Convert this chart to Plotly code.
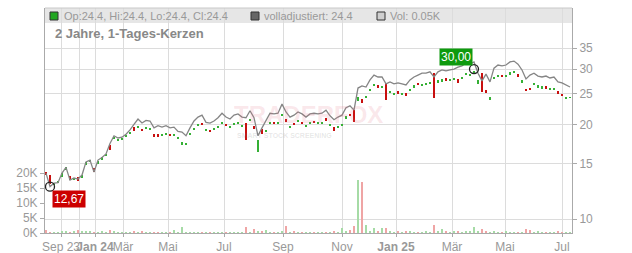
import math
import plotly.graph_objects as go

# ---------------- data (sampled sessions, oldest -> newest) ----------------
adj_close = [
    14.0, 12.67, 13.0, 13.05, 14.0, 14.6, 13.3, 13.5, 13.4, 13.8,
    15.2, 15.4, 14.1, 15.4, 15.7, 16.1, 17.4, 18.4, 18.1, 18.2,
    18.6, 19.2, 20.0, 20.8, 20.2, 20.6, 20.5, 19.5, 19.8, 19.6,
    19.8, 19.5, 19.6, 19.0, 18.9, 18.4, 19.5, 20.5, 21.1, 21.4,
    20.3, 20.2, 20.5, 21.0, 21.7, 21.1, 20.8, 21.4, 21.6, 21.1,
    21.0, 22.1, 21.0, 18.4, 19.5, 20.5, 21.7, 21.6, 21.7, 23.2,
    21.9, 21.1, 21.4, 21.9, 21.6, 21.1, 21.6, 21.7, 21.6, 21.7,
    22.2, 21.3, 20.7, 21.1, 21.4, 22.6, 22.9, 22.2, 26.1, 26.5,
    26.3, 27.7, 28.7, 28.3, 28.3, 26.9, 27.3, 26.9, 27.1, 26.9,
    26.7, 27.7, 28.3, 28.7, 29.1, 29.1, 29.4, 28.3, 29.4, 29.8,
    29.6, 29.8, 30.0, 30.4, 30.7, 31.4, 31.1, 31.6, 29.1, 27.5,
    28.9, 27.3, 30.2, 30.9, 30.7, 30.9, 31.6, 31.8, 31.1, 29.8,
    27.9, 28.7, 29.1, 28.5, 28.3, 28.5, 28.1, 28.3, 27.3, 27.1,
    26.7, 26.3,
]

candle_open = [
    14.1, 13.8, 12.9, 13.0, 13.6, 14.3, 13.7, 13.3, 13.6, 13.5,
    14.8, 15.2, 14.5, 15.0, 15.5, 15.9, 17.2, 18.0, 17.8, 17.9,
    18.3, 18.7, 19.6, 19.6, 19.4, 19.4, 19.3, 18.6, 18.7, 18.4,
    18.6, 18.7, 18.4, 18.0, 17.2, 17.3, 18.5, 19.2, 19.7, 20.2,
    19.0, 19.2, 19.2, 19.6, 20.2, 20.0, 19.5, 20.0, 20.2, 19.7,
    20.2, 20.6, 19.8, 16.3, 19.4, 18.9, 20.1, 20.4, 20.1, 21.3,
    20.8, 19.6, 20.2, 20.3, 20.4, 19.7, 20.1, 20.5, 20.1, 20.2,
    20.9, 19.8, 19.6, 19.5, 19.9, 20.8, 21.6, 22.2, 23.8, 24.1,
    24.2, 25.5, 26.5, 26.6, 26.2, 27.1, 25.2, 24.9, 25.5, 24.9,
    25.1, 25.6, 26.2, 27.0, 26.6, 26.8, 27.0, 29.1, 27.2, 27.4,
    28.0, 27.5, 27.7, 27.9, 28.0, 28.8, 28.6, 29.2, 26.9, 29.1,
    25.8, 24.0, 27.8, 28.3, 28.7, 28.4, 28.9, 29.2, 28.9, 27.2,
    26.0, 26.2, 26.6, 26.3, 26.0, 26.4, 25.8, 25.9, 25.5, 25.0,
    24.2, 24.3,
]

candle_close = [
    13.9, 12.9, 13.0, 13.2, 14.0, 14.6, 13.3, 13.5, 13.2, 13.8,
    15.2, 15.4, 14.1, 15.3, 15.7, 16.1, 16.6, 18.3, 18.0, 18.1,
    18.5, 18.9, 19.1, 19.8, 19.0, 19.6, 19.5, 18.3, 18.3, 18.6,
    18.8, 18.4, 18.6, 18.2, 17.6, 17.5, 18.8, 19.5, 20.0, 19.9,
    19.3, 18.9, 19.4, 19.8, 20.4, 19.7, 19.7, 20.2, 20.4, 19.9,
    17.8, 20.8, 19.4, 17.9, 18.6, 19.2, 20.4, 20.0, 20.3, 21.6,
    20.3, 19.8, 19.9, 20.6, 20.0, 19.9, 20.3, 20.2, 20.3, 20.4,
    20.5, 20.0, 19.0, 19.8, 20.1, 21.2, 21.2, 20.4, 24.5, 23.4,
    24.6, 25.9, 26.9, 26.1, 26.5, 23.9, 25.6, 25.2, 25.0, 25.2,
    24.7, 26.0, 26.6, 26.6, 26.9, 27.1, 27.3, 24.3, 27.6, 27.8,
    27.5, 27.9, 28.1, 27.1, 28.4, 29.2, 29.0, 29.6, 27.6, 25.4,
    25.2, 24.5, 28.3, 28.7, 28.3, 28.8, 29.3, 29.6, 28.4, 27.6,
    25.5, 25.8, 27.0, 26.6, 26.4, 25.9, 26.1, 26.2, 25.0, 24.6,
    24.5, 24.4,
]

volume_k = [
    1.0, 0.3, 0.2, 0.3, 0.4, 0.5, 0.3, 0.8, 0.9, 0.6,
    0.7, 0.4, 0.3, 0.3, 0.6, 0.3, 1.0, 0.4, 0.3, 0.2,
    0.3, 0.2, 0.5, 0.3, 0.4, 0.2, 0.3, 0.2, 0.2, 0.3,
    0.2, 0.3, 1.0, 0.2, 2.0, 0.3, 0.2, 0.3, 0.2, 0.1,
    0.2, 0.3, 0.2, 0.1, 0.2, 0.3, 0.1, 0.2, 0.2, 0.3,
    2.0, 0.3, 1.5, 0.4, 0.5, 1.0, 0.3, 0.2, 0.3, 0.5,
    2.3, 0.3, 0.4, 0.2, 0.3, 0.2, 0.1, 0.2, 0.3, 0.2,
    0.3, 0.2, 0.4, 0.3, 1.7, 0.5, 1.0, 2.3, 17.7, 17.0,
    2.7, 0.6, 1.7, 0.5, 1.7, 1.7, 0.4, 0.3, 0.5, 0.3,
    0.4, 0.6, 0.3, 0.2, 0.3, 0.4, 0.3, 2.7, 0.4, 1.3,
    0.5, 0.3, 0.4, 0.5, 0.3, 0.6, 0.4, 2.0, 0.5, 1.2,
    0.8, 0.3, 0.4, 0.3, 0.2, 0.4, 0.3, 0.2, 0.3, 0.2,
    1.5, 1.0, 0.3, 0.4, 0.2, 0.3, 0.2, 0.3, 0.4, 0.2,
    0.2, 0.3,
]

# month ticks (in session-sample units) and labels
tick_pos = [3.75, 8.25, 12.25, 19.25, 30.5, 44.5, 59.25, 74.0, 87.5, 101.5, 114.75, 129.0]
tick_text = ["Sep 23", "", "<b>Jan 24</b>", "Mär", "Mai", "Jul", "Sep", "Nov",
             "<b>Jan 25</b>", "Mär", "Mai", "Jul"]
price_ticks = [10, 15, 20, 25, 30, 35]
vol_ticks_k = [0, 5, 10, 15, 20]

low_idx, low_val = 1, 12.67
high_idx, high_val = 107, 30.00

# ---------------- styling ----------------
GREEN = "#35b035"
RED = "#c8100f"
VGREEN = "#a6dba6"
VRED = "#efa5a5"
FONT = "Liberation Sans, Arial, sans-serif"

W, H = 632, 253
L, R, T, B = 45, 60, 8, 20
PW, PH = W - L - R, H - T - B


def px_x(px):
    return (px - L) / PW


def px_y(py):
    return (H - B - py) / PH


n = len(adj_close)
x = list(range(n))
up = [c >= o for o, c in zip(candle_open, candle_close)]
body_base = [min(o, c) for o, c in zip(candle_open, candle_close)]
body_h = [max(abs(c - o), 0.08) for o, c in zip(candle_open, candle_close)]

fig = go.Figure()

fig.add_trace(go.Bar(
    x=x, y=body_h, base=body_base, width=0.45,
    marker=dict(color=[GREEN if u else RED for u in up], line=dict(width=0)),
    yaxis="y", hoverinfo="skip",
))

fig.add_trace(go.Scatter(
    x=x, y=adj_close, mode="lines",
    line=dict(color="#858585", width=1.3), yaxis="y", hoverinfo="skip",
))

fig.add_trace(go.Bar(
    x=x, y=[v * 1000 for v in volume_k], width=0.35,
    marker=dict(color=[VGREEN if u else VRED for u in up], line=dict(width=0)),
    yaxis="y2", hoverinfo="skip",
))

fig.add_trace(go.Scatter(
    x=[low_idx, high_idx], y=[low_val, high_val], mode="markers",
    marker=dict(symbol="circle-open", size=9, color="#222", line=dict(width=1.3)),
    yaxis="y", hoverinfo="skip",
))

x_range = [-0.25, 131.5]
lo_log = 1 - 14 / 314.3
hi_log = 1 + 211 / 314.3

fig.update_layout(
    width=W, height=H,
    margin=dict(l=L, r=R, t=T, b=B, pad=0, autoexpand=False),
    paper_bgcolor="white", plot_bgcolor="white",
    showlegend=False, barmode="overlay", bargap=0,
    font=dict(family=FONT, size=12, color="#999"),
    xaxis=dict(
        range=x_range, tickmode="array", tickvals=tick_pos, ticktext=tick_text,
        tickangle=0, showgrid=True, gridcolor="#dcdcdc", gridwidth=1,
        ticks="outside", ticklen=3, tickcolor="#aaa", automargin=False,
        showline=True, linecolor="#aaa", linewidth=1, zeroline=False,
        tickfont=dict(family=FONT, size=12, color="#999"), fixedrange=True,
    ),
    yaxis=dict(
        type="log", side="right", range=[lo_log, hi_log], automargin=False,
        tickmode="array", tickvals=price_ticks, ticktext=[str(v) for v in price_ticks],
        showgrid=True, gridcolor="#dcdcdc", gridwidth=1,
        ticks="outside", ticklen=4, tickcolor="#aaa",
        showline=True, linecolor="#aaa", linewidth=1, zeroline=False,
        tickfont=dict(family=FONT, size=12, color="#999"),
    ),
    yaxis2=dict(
        overlaying="y", side="left", anchor="x", range=[0, 75000], automargin=False,
        tickmode="array", tickvals=[v * 1000 for v in vol_ticks_k],
        ticktext=[f"{v}K" for v in vol_ticks_k],
        showgrid=False, ticks="outside", ticklen=4, tickcolor="#aaa",
        showline=True, linecolor="#aaa", linewidth=1, zeroline=False,
        tickfont=dict(family=FONT, size=12, color="#999"),
    ),
)

shapes = []
# header bar
shapes.append(dict(type="rect", xref="paper", yref="paper", x0=0, x1=1,
                   y0=px_y(23), y1=1, fillcolor="#e6e6e6", line=dict(width=0), layer="below"))
# top border
shapes.append(dict(type="line", xref="paper", yref="paper", x0=0, x1=1, y0=1, y1=1,
                   line=dict(color="#c8c8c8", width=1)))
# legend squares
for x0, col in [(50, "#22a722"), (251, "#666666"), (377, "#cfcfcf")]:
    shapes.append(dict(type="rect", xref="paper", yref="paper",
                       x0=px_x(x0), x1=px_x(x0 + 8), y0=px_y(20), y1=px_y(12),
                       fillcolor=col, line=dict(color="#333", width=1)))
fig.update_layout(shapes=shapes)

ann = []
for x0, txt in [(62, "Op:24.4, Hi:24.4, Lo:24.4, Cl:24.4"),
                (262, "volladjustiert: 24.4"),
                (388, "Vol: 0.05K")]:
    ann.append(dict(xref="paper", yref="paper", x=px_x(x0), y=px_y(16),
                    xanchor="left", yanchor="middle", showarrow=False, text=txt,
                    font=dict(family=FONT, size=11, color="#999")))
ann.append(dict(xref="paper", yref="paper", x=px_x(53), y=px_y(33),
                xanchor="left", yanchor="middle", showarrow=False,
                text="<b>2 Jahre, 1-Tages-Kerzen</b>",
                font=dict(family=FONT, size=13, color="#888")))
# watermark
ann.append(dict(xref="paper", yref="paper", x=px_x(308), y=px_y(114),
                xanchor="center", yanchor="middle", showarrow=False,
                text="<b>TRADERFOX</b>", borderpad=0,
                font=dict(family=FONT, size=24, color="rgba(225,110,130,0.16)")))
ann.append(dict(xref="paper", yref="paper", x=px_x(284), y=px_y(135),
                xanchor="center", yanchor="middle", showarrow=False,
                text="<b>SMART STOCK SCREENING</b>", borderpad=0,
                font=dict(family=FONT, size=7, color="rgba(120,120,120,0.18)")))
# high / low labels
ann.append(dict(x=high_idx, y=math.log10(high_val), xref="x", yref="y",
                showarrow=False, text=f"{high_val:.2f}".replace(".", ","),
                xshift=-18, yshift=12, bgcolor="#0e9a0e", borderpad=1,
                font=dict(family=FONT, size=12, color="white")))
ann.append(dict(x=low_idx, y=math.log10(low_val), xref="x", yref="y",
                showarrow=False, text=f"{low_val:.2f}".replace(".", ","),
                xshift=19, yshift=-12, bgcolor="#cc0000", borderpad=1,
                font=dict(family=FONT, size=12, color="white")))
fig.update_layout(annotations=ann)

fig.write_html("out.html")
